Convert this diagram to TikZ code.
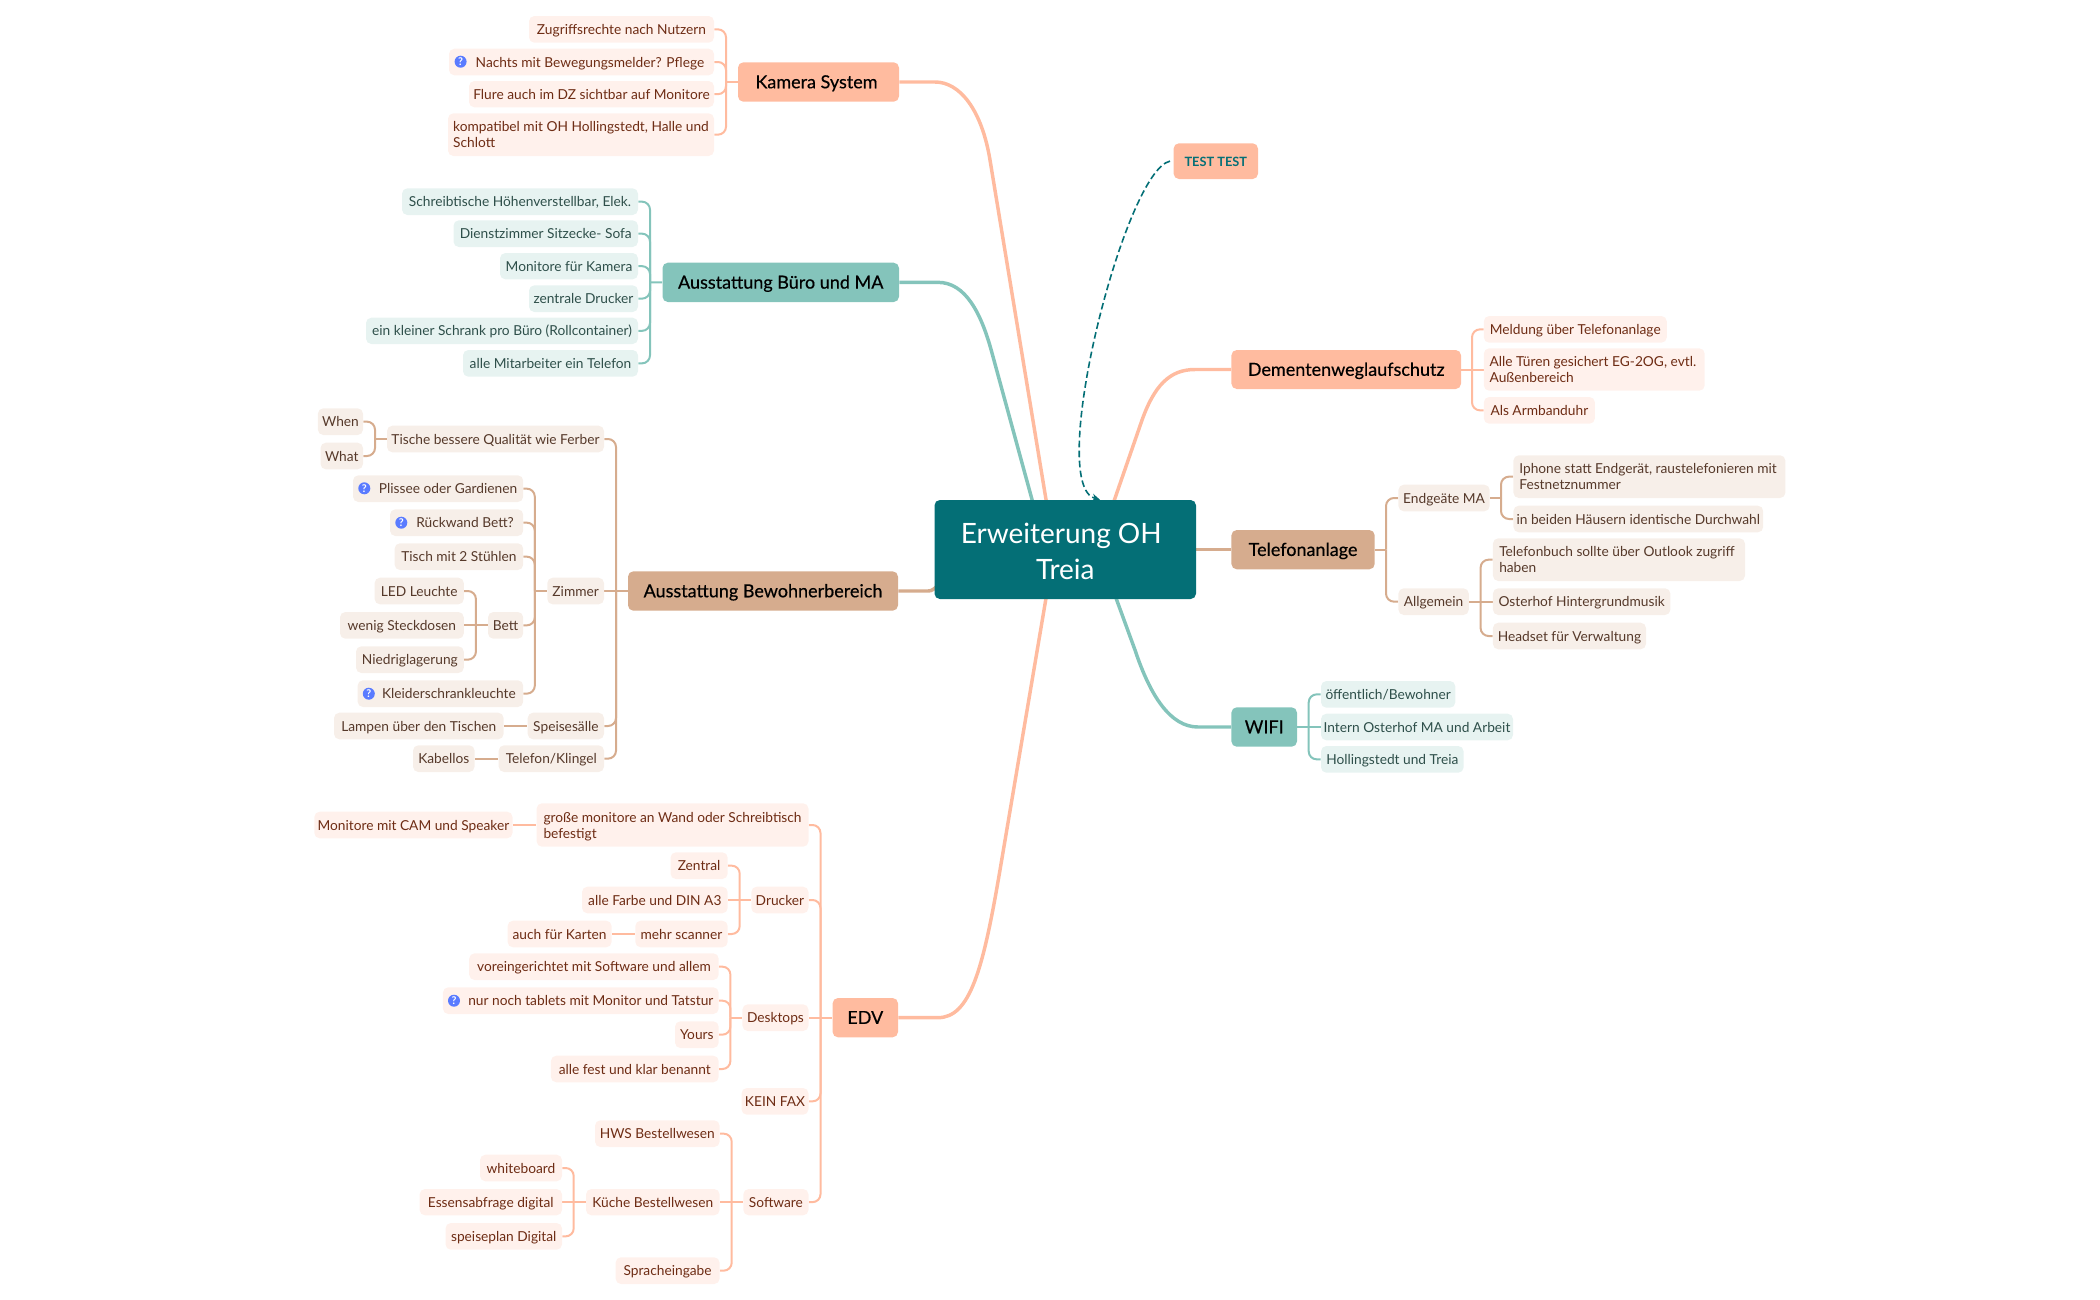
\documentclass[tikz,border=0pt]{standalone}
\usepackage{fontspec}
\setmainfont{Lato}
\newfontfamily\bigf{Lato}[FakeBold=0.4]
\usetikzlibrary{arrows.meta}
\pgfdeclarelayer{bg}
\pgfsetlayers{bg,main}
\definecolor{mainc}{HTML}{046F76}
\definecolor{pe}{HTML}{FFBB9F}
\definecolor{br}{HTML}{D6AC8E}
\definecolor{te}{HTML}{84C4BB}
\definecolor{pel}{HTML}{FFF1EC}
\definecolor{brl}{HTML}{F7EFE9}
\definecolor{tel}{HTML}{E7F3F1}
\definecolor{pet}{HTML}{6E2C14}
\definecolor{brt}{HTML}{56392A}
\definecolor{tet}{HTML}{2E4F4A}
\definecolor{qb}{HTML}{5A7BFF}
\newcommand{\bx}[7][]{\node[#2,minimum width={(#5-#3)*0.75pt},minimum height={(#6-#4)*0.75pt},#1] (#7) at ({(#3+#5)/2},{(#4+#6)/2})}
\newcommand{\kL}[3]{\foreach \c in {#3} \draw[#1] (\c.east) -| (#2);}
\newcommand{\kR}[3]{\foreach \c in {#3} \draw[#1] (\c.west) -| (#2);}
\newcommand{\tall}{\rule{0pt}{9.8pt}}
\newcommand{\pad}[1]{\rule{#1}{0pt}}
\tikzset{
  box/.style={rounded corners=4pt,inner sep=0pt,align=left},
  strt/.style 2 args={execute at begin node={\rule{0pt}{#1}},execute at end node={\rule[-#2]{0pt}{#2}}},
  lf/.style={box,strt={9.8pt}{2.2pt},font=\fontsize{10.3}{12}\selectfont},
  pleaf/.style={lf,fill=pel,text=pet},
  bleaf/.style={lf,fill=brl,text=brt},
  tleaf/.style={lf,fill=tel,text=tet},
  bigb/.style={box,strt={12.4pt}{3pt},font=\bigf\fontsize{13.5}{16}\selectfont,text=black},
  pbig/.style={bigb,fill=pe},
  bbig/.style={bigb,fill=br},
  tbig/.style={bigb,fill=te},
  rootn/.style={box,strt={20.9pt}{6.1pt},align=center,fill=mainc,text=white,font=\fontsize{21}{27}\selectfont},
  testn/.style={box,strt={9.8pt}{2.2pt},fill=pe,text=mainc,font=\fontsize{9.6}{12}\selectfont\bfseries},
  qmark/.style={circle,fill=qb,text=white,inner sep=0pt,minimum size=9pt,font=\fontsize{8}{8}\selectfont\bfseries},
  pl/.style={draw=pe,line width=1.5pt,rounded corners=6pt},
  bl/.style={draw=br,line width=1.5pt,rounded corners=6pt},
  tl/.style={draw=te,line width=1.5pt,rounded corners=6pt},
  pb/.style={draw=pe,line width=2.6pt},
  bb/.style={draw=br,line width=2.6pt},
  tb/.style={draw=te,line width=2.6pt},
  rel/.style={draw=mainc,line width=1.2pt,dash pattern=on 5pt off 2.5pt,-{Stealth[length=6pt,width=6pt]}}
}
\begin{document}
\begin{tikzpicture}[x=0.75pt,y=-0.75pt]
\useasboundingbox (0,0) rectangle (2100,1300);
% root
\bx{rootn}{934.5}{500}{1196}{599}{root}{\rule{0pt}{23.5pt}Erweiterung OH\pad{6pt}\\Treia};
\bx{testn}{1173.6}{143.3}{1258}{179}{tt}{TEST TEST};
% Kamera
\bx{pbig}{738}{62.3}{899}{101.7}{km}{Kamera System\hspace{3pt}};
\bx{pleaf}{529}{16}{714}{42.7}{km1}{Zugriffsrechte nach Nutzern};
\bx{pleaf}{449}{48.7}{714}{75.3}{km2}{\hspace{12.75pt}Nachts mit Bewegungsmelder? Pflege};
\node[qmark] (q1) at (460.6,61.7) {?};
\bx{pleaf}{469}{81}{714}{107.3}{km3}{Flure auch im DZ sichtbar auf Monitore};
\bx{pleaf}{448}{113.3}{714}{156}{km4}{\tall kompatibel mit OH Hollingstedt, Halle und\\Schlott};
% Buero
\bx{tbig}{662.5}{262.7}{899}{302}{bu}{Ausstattung Büro und MA};
\bx{tleaf}{402}{188.3}{638}{215}{bu1}{Schreibtische Höhenverstellbar, Elek.};
\bx{tleaf}{453.5}{220.3}{638}{247}{bu2}{Dienstzimmer Sitzecke- Sofa};
\bx{tleaf}{500}{253}{638}{279.3}{bu3}{Monitore für Kamera};
\bx{tleaf}{529}{285.3}{638}{312}{bu4}{zentrale Drucker};
\bx{tleaf}{366}{317.7}{638}{344}{bu5}{ein kleiner Schrank pro Büro (Rollcontainer)};
\bx{tleaf}{463}{350}{638}{376.7}{bu6}{alle Mitarbeiter ein Telefon};
% Bewohner
\bx{bbig}{628}{571.3}{898}{610.7}{be}{Ausstattung Bewohnerbereich};
\bx{bleaf}{387}{425.7}{604}{452.3}{ti}{Tische bessere Qualität wie Ferber};
\bx{bleaf}{317.9}{408.3}{363}{435}{wn}{When};
\bx{bleaf}{320.5}{442.7}{363}{469.3}{wt}{What};
\bx{bleaf}{547.3}{577.7}{604}{604.3}{zi}{Zimmer};
\bx{bleaf}{353}{475.3}{523.2}{502}{z1}{\hspace{15pt}Plissee oder Gardienen};
\node[qmark] (q2) at (364.3,488.3) {?};
\bx{bleaf}{390}{509.3}{523.2}{536}{z2}{\hspace{12.75pt}Rückwand Bett?};
\node[qmark] (q3) at (401.3,522.7) {?};
\bx{bleaf}{394.6}{543.3}{523.2}{570}{z3}{Tisch mit 2 Stühlen};
\bx{bleaf}{488}{612}{523.2}{638.7}{bt}{Bett};
\bx{bleaf}{374.6}{577.7}{463.8}{604.3}{b1}{LED Leuchte};
\bx{bleaf}{340}{612}{463.8}{638.7}{b2}{wenig Steckdosen};
\bx{bleaf}{356}{646.3}{463.8}{673}{b3}{Niedriglagerung};
\bx{bleaf}{357.6}{680.3}{523.2}{707}{z5}{\hspace{12.75pt}Kleiderschrankleuchte};
\node[qmark] (q4) at (368.8,693.7) {?};
\bx{bleaf}{527.7}{712.7}{604}{739.3}{sp}{Speisesälle};
\bx{bleaf}{334}{712.7}{503.6}{739.3}{la}{Lampen über den Tischen};
\bx{bleaf}{498.7}{745.3}{604}{772}{kl}{Telefon/Klingel};
\bx{bleaf}{413}{745.3}{474.6}{772}{ka}{Kabellos};
% EDV
\bx{pbig}{832.6}{998}{898}{1037.3}{ed}{EDV};
\bx{pleaf}{536.6}{803.3}{808.5}{846.7}{gr}{\tall große monitore an Wand oder Schreibtisch\\befestigt};
\bx{pleaf}{314.3}{811.7}{512.5}{838.3}{mo}{Monitore mit CAM und Speaker};
\bx{pleaf}{751.3}{886.7}{808.5}{913.3}{dr}{Drucker};
\bx{pleaf}{670.5}{852.3}{727.7}{879}{d1}{Zentral};
\bx{pleaf}{582}{886.7}{727.7}{913.3}{d2}{alle Farbe und DIN A3};
\bx{pleaf}{635.3}{920.7}{727.7}{947.3}{d3}{mehr scanner};
\bx{pleaf}{507.6}{920.7}{611.6}{947.3}{d4}{auch für Karten};
\bx{pleaf}{742.4}{1004.3}{808.5}{1031}{de}{Desktops};
\bx{pleaf}{469.2}{953.3}{718.7}{980}{e1}{voreingerichtet mit Software und allem};
\bx{pleaf}{442.9}{987.3}{718.7}{1014}{e2}{\hspace{15pt}nur noch tablets mit Monitor und Tatstur};
\node[qmark] (q5) at (454,1000.7) {?};
\bx{pleaf}{675}{1021.3}{718.7}{1048}{e3}{Yours};
\bx{pleaf}{550.9}{1055.7}{718.7}{1082.3}{e4}{alle fest und klar benannt};
\bx{pleaf}{741.5}{1088}{808.5}{1114.7}{fa}{KEIN FAX};
\bx{pleaf}{743.3}{1189}{808.5}{1215.3}{so}{Software};
\bx{pleaf}{595}{1120.3}{719.6}{1147}{s1}{HWS Bestellwesen};
\bx{pleaf}{586}{1189}{719.6}{1215.3}{s2}{Küche Bestellwesen};
\bx{pleaf}{615.6}{1257.3}{719.6}{1284}{s3}{Spracheingabe};
\bx{pleaf}{480}{1154.7}{562}{1181.3}{k1}{whiteboard};
\bx{pleaf}{419.6}{1189}{562}{1215.3}{k2}{Essensabfrage digital};
\bx{pleaf}{445.5}{1223}{562}{1249.7}{k3}{speiseplan Digital};
% Dementen
\bx{pbig}{1231.4}{350}{1461}{389}{dm}{Dementenweglaufschutz};
\bx{pleaf}{1483.8}{316}{1666.8}{342.7}{m1}{Meldung über Telefonanlage};
\bx{pleaf}{1483.8}{348.3}{1704.7}{390.7}{m2}{\tall Alle Türen gesichert EG-2OG, evtl.\pad{2pt}\\Außenbereich};
\bx{pleaf}{1483.8}{397}{1594.9}{423.7}{m3}{Als Armbanduhr};
% Telefon
\bx{bbig}{1231.4}{530}{1374.7}{569.3}{tf}{Telefonanlage};
\bx{bleaf}{1398.4}{484.7}{1489.7}{511.3}{en}{Endgeäte MA};
\bx{bleaf}{1398.4}{588.3}{1468.8}{615}{al}{Allgemein};
\bx{bleaf}{1513.4}{455.3}{1785.4}{498}{n1}{\tall Iphone statt Endgerät, raustelefonieren mit\pad{2pt}\\Festnetznummer};
\bx{bleaf}{1513.4}{505.7}{1763.2}{532.3}{n2}{in beiden Häusern identische Durchwahl};
\bx{bleaf}{1492.9}{538.3}{1745}{581}{a1}{\tall Telefonbuch sollte über Outlook zugriff\pad{3pt}\\haben};
\bx{bleaf}{1492.9}{588.3}{1670.4}{615}{a2}{Osterhof Hintergrundmusik};
\bx{bleaf}{1492.9}{622.7}{1646}{649.3}{a3}{Headset für Verwaltung};
% WIFI
\bx{tbig}{1231.4}{707.3}{1297}{746.7}{wf}{WIFI};
\bx{tleaf}{1321}{681}{1455.3}{707.7}{w1}{öffentlich/Bewohner};
\bx{tleaf}{1321}{713.7}{1513}{740.3}{w2}{Intern Osterhof MA und Arbeit};
\bx{tleaf}{1321}{746}{1463.6}{772.7}{w3}{Hollingstedt und Treia};
% trunks
\coordinate (tkm) at (726,82);
\coordinate (tbu) at (650,282.35);
\coordinate (tti) at (375,439);
\coordinate (tzi) at (534.8,591);
\coordinate (tbt) at (475.9,625.35);
\coordinate (tbe) at (616,591);
\coordinate (tdr) at (739.7,900);
\coordinate (tde) at (730.4,1017.65);
\coordinate (tso) at (731.7,1202.15);
\coordinate (tku) at (573.7,1202.15);
\coordinate (ted) at (820.5,1017.65);
\coordinate (tdm) at (1472,369.5);
\coordinate (ttf) at (1386,549.65);
\coordinate (ten) at (1501,498);
\coordinate (tal) at (1480.6,601.65);
\coordinate (twf) at (1308.7,727);
\begin{pgfonlayer}{bg}
% branch curves
\draw[pb] (km.east) -- (935,82) .. controls (960,82) and (981.75,110) .. (990,160) -- ([xshift=-8.25pt]root.center);
\draw[tb] (bu.east) -- (938,282.35) .. controls (965,282.35) and (981,312) .. (992,353) -- ([xshift=-14.7pt]root.center);
\draw[bb] (be.east) -- (928,591) .. controls (932,591) and (934,589) .. (937,586);
\draw[pb] (ed.east) -- (938,1017.65) .. controls (970,1017.65) and (983,970) .. (1000,870) -- ([xshift=-8.25pt]root.center);
\draw[pb] (dm.west) -- (1195,369.5) .. controls (1170,369.5) and (1154,385) .. (1141,423) -- ([xshift=24pt]root.center);
\draw[bb] (tf.west) -- (root.east |- tf.west);
\draw[tb] (wf.west) -- (1198,727) .. controls (1170,727) and (1150,695) .. (1135,650) -- ([xshift=24.75pt]root.center);
% Kamera
\kL{pl}{tkm}{km1,km2,km3,km4}
\draw[pl] (tkm) -- (km.west);
% Buero
\kL{tl}{tbu}{bu1,bu2,bu3,bu4,bu5,bu6}
\draw[tl] (tbu) -- (bu.west);
% Bewohner
\kL{bl}{tbe}{ti,sp,kl}
\draw[bl] (zi.east) -- (be.west);
\kL{bl}{tti}{wn,wt}
\draw[bl] (tti) -- (ti.west);
\kL{bl}{tzi}{z1,z2,z3,bt,z5}
\draw[bl] (tzi) -- (zi.west);
\kL{bl}{tbt}{b1,b3}
\draw[bl] (b2.east) -- (bt.west);
\draw[bl] (la.east) -- (sp.west);
\draw[bl] (ka.east) -- (kl.west);
% EDV
\kL{pl}{ted}{gr,dr,fa,so}
\draw[pl] (de.east) -- (ed.west);
\draw[pl] (mo.east) -- (gr.west);
\kL{pl}{tdr}{d1,d3}
\draw[pl] (d2.east) -- (dr.west);
\draw[pl] (d4.east) -- (d3.west);
\kL{pl}{tde}{e1,e2,e3,e4}
\draw[pl] (tde) -- (de.west);
\kL{pl}{tso}{s1,s3}
\draw[pl] (s2.east) -- (so.west);
\kL{pl}{tku}{k1,k3}
\draw[pl] (k2.east) -- (s2.west);
% Dementen
\kR{pl}{tdm}{m1,m3}
\draw[pl] (dm.east) -- (m2.west);
% Telefon
\kR{bl}{ttf}{en,al}
\draw[bl] (tf.east) -- (ttf);
\kR{bl}{ten}{n1,n2}
\draw[bl] (en.east) -- (ten);
\kR{bl}{tal}{a1,a3}
\draw[bl] (al.east) -- (a2.west);
% WIFI
\kR{tl}{twf}{w1,w3}
\draw[tl] (wf.east) -- (w2.west);
\end{pgfonlayer}
% relationship
\draw[rel] ([xshift=-2.5pt]tt.west) .. controls (1125,170) and (1045,485) .. ([xshift=26pt]root.north);
\end{tikzpicture}
\end{document}
